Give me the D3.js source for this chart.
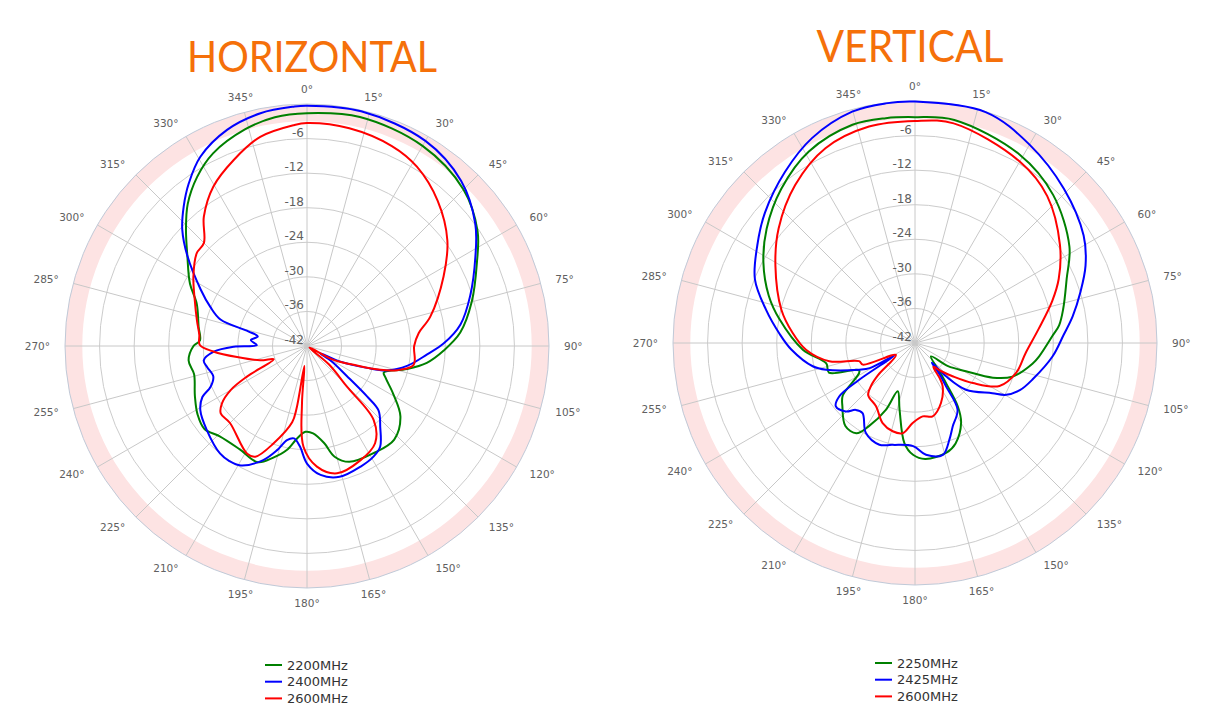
<!DOCTYPE html>
<html>
<head>
<meta charset="utf-8">
<script src="https://cdn.jsdelivr.net/npm/d3@7"></script>
<style>
  body { margin: 0; background: #fff; }
  text { font-family: "DejaVu Sans", Verdana, sans-serif; }
</style>
</head>
<body>
<svg id="chart" width="1231" height="712"></svg>
<script>
// ===== data (dB vs angle, degrees clockwise from top) =====
const ringValues = [-36, -30, -24, -18, -12, -6];
const ringLabels = [-42, -36, -30, -24, -18, -12, -6];
const angleTicks = d3.range(0, 360, 15);

// HORIZONTAL
const hAngles2200 = [0,13,30,45,56,64,75,85,92,98,103,109,112,119,127,137,148,160,166,170,176,181,186,191,197,203,213,224,231,238,246,256,263,270,273,280,291,298,307,314,320,327,334,344,352];
const hDb2200     = [-1.6,-1.2,-1.9,-3.6,-6.3,-9.2,-12.4,-15.3,-18.3,-21.0,-24.2,-27.9,-27.3,-24.9,-21.7,-19.8,-20.1,-20.6,-22.2,-24.9,-26.8,-27.1,-25.9,-23.6,-21.7,-20.1,-20.6,-20.2,-19.1,-19.6,-20.7,-21.8,-21.3,-22.3,-23.4,-22.9,-21.5,-19.0,-16.0,-12.8,-9.8,-7.0,-4.8,-2.9,-1.9];

const hAngles2400 = [0,13,30,43,54,62,73,82,89,94,101,107,110,115,119,122,127,130,132,138,144,149,156,166,174,180,184,188,192,196,201,209,214,219,230,239,244,247,252,258,262,266.5,269.5,271,276,281,284,287,292,298,307,313,318.5,324,330.6,339.7,348.7,356.8];
const hDb2400     = [-0.3,-0.2,-0.9,-2.8,-5.9,-8.9,-12.4,-15.1,-18.3,-21.1,-24.2,-27.5,-30.9,-35.6,-39.5,-37,-33.3,-28.4,-25.3,-23.0,-20.4,-19.6,-19.1,-18.6,-19.5,-21.6,-24.5,-25.8,-25.3,-23.2,-20.8,-18.3,-17.9,-18.0,-19.3,-20.4,-21.8,-23.8,-24.9,-24.3,-23.9,-25.8,-29.3,-33.3,-32.2,-33.3,-31.5,-26.3,-23.9,-21.1,-16.0,-12.4,-9.7,-7.1,-4.3,-2.0,-0.8,-0.4];

const hAngles2600 = [0,11,23,31.5,42,53,63,76.6,83.5,90,100,105,108,112,117.7,122,130,135.5,138,145,155,166.7,175.3,182,185,187.5,189.5,191,199,205,209,225,232,236,240,243,248.3,253,261,266.5,270.5,276,283,292,301.4,310,315,321.4,329.6,338.5,347.4,356.5];
const hDb2600     = [-3.3,-3.5,-4.3,-5.5,-8.1,-11.5,-15.4,-20.0,-22.5,-23.4,-23.2,-25.8,-28.6,-33.3,-36.8,-41.5,-37,-32.1,-24.7,-21.4,-20.1,-19.3,-21.0,-24.5,-32,-38.5,-31,-28.5,-24.1,-20.8,-20.6,-23.1,-23.0,-24.2,-26.7,-30.3,-35.8,-33.5,-29.7,-25.8,-23.4,-23.2,-22.4,-21.0,-18.9,-17.0,-16.7,-13.3,-9.9,-7.3,-4.8,-3.6];

// VERTICAL
const vAngles2250 = [0,10,29,43,58,67,77,83,87,96,100,109,114,119,125,130,140,142.5,146,150,158,164,175,181,186,193,199.7,203.5,209,213,220,229,234,243.5,251,257,266.6,280,288,298,307.6,319,331,344,352.6];
const vDb2250     = [-2.8,-2.7,-4.6,-6.85,-10.4,-13.4,-15.6,-16.8,-18.1,-20.3,-21.3,-24.1,-27.2,-31.9,-35,-38.4,-35,-33,-28.7,-26.0,-23.2,-22.2,-21.8,-22.6,-24.5,-30.1,-33.1,-29.4,-25.5,-23.3,-23.2,-25.3,-26.5,-31.2,-26.2,-26.2,-22.5,-18.1,-15.3,-12.2,-9.5,-6.6,-4.0,-2.6,-2.65];

const vAngles2425 = [0,17,30,44,57.5,65.6,73,80.4,87,95.5,107,114,119.6,123,132.5,137,139.5,142,144.4,147.4,155.7,160.4,166,174.4,181,192.4,199.3,208.6,216.8,221.5,225.3,231.3,234.8,236.6,238.5,241,244.4,253.3,257.2,267,274,282.6,291.7,301.8,311,322.8,333.3,344.8,353];
const vDb2425     = [-0.1,-0.1,-2.25,-4.8,-7.3,-9.5,-12.0,-14.25,-16.2,-18.0,-20.6,-22,-23.8,-26.0,-30.0,-34.1,-37.5,-35,-32.75,-28.3,-26.1,-24.2,-22.0,-22.5,-24.1,-23.9,-23.3,-24.2,-26.8,-26.5,-25.1,-24.4,-25.9,-30.4,-37.8,-33,-31.3,-25.9,-23.8,-20.5,-18.4,-15.5,-12.1,-9.8,-7.5,-4.7,-2.2,-0.4,-0.1];

const vAngles2600 = [0,10,30,42,56,66,73,83.5,95,106.5,117,124.7,131.5,137,142.3,145,147.4,156.6,166.5,174,181.7,187.8,194.2,202,211.6,222,226,229,238,247.5,252,258,266.5,274.7,284,299,310,322.8,335.3,348];
const vDb2600     = [-3.45,-3.3,-5.65,-7.7,-11.65,-14.7,-17.1,-20.4,-22.7,-23.7,-25.55,-29.8,-33.3,-35.3,-36.8,-34.5,-33.1,-30.65,-28.9,-29.2,-28.1,-26.2,-26.2,-27.0,-29.1,-29.85,-31.5,-33.5,-38.1,-32.2,-31.8,-26.8,-23.05,-20.7,-18.1,-14.3,-11.1,-7.6,-4.8,-3.6];

const hNames = ["2200MHz", "2400MHz", "2600MHz"];
const vNames = ["2250MHz", "2425MHz", "2600MHz"];
const seriesColors = ["#008000", "#0000ff", "#ff0000"];

// ===== drawing =====
const svg = d3.select("#chart");
const R = 242;
const rScale = d3.scaleLinear().domain([-42, 0]).range([0, R]).clamp(true);
const toRad = a => a * Math.PI / 180;

function drawPolar(cfg) {
  const g = svg.append("g").attr("transform", `translate(${cfg.cx},${cfg.cy})`);

  // -3..0 dB band
  g.append("path")
    .attr("d", d3.arc()({ innerRadius: rScale(-3), outerRadius: R, startAngle: 0, endAngle: 2 * Math.PI }))
    .attr("fill", "#fde3e3");

  // rings
  g.selectAll(".ring").data(ringValues).enter().append("circle")
    .attr("r", d => rScale(d))
    .attr("fill", "none")
    .attr("stroke", "#cccccc")
    .attr("stroke-width", 1);

  // spokes
  g.selectAll(".spoke").data(angleTicks).enter().append("line")
    .attr("x1", 0).attr("y1", 0)
    .attr("x2", d => R * Math.sin(toRad(d)))
    .attr("y2", d => -R * Math.cos(toRad(d)))
    .attr("stroke", "#c8c8c8")
    .attr("stroke-width", 1);

  // outer border
  g.append("circle").attr("r", R)
    .attr("fill", "none").attr("stroke", "#c0cad8").attr("stroke-width", 1);

  // angle labels
  g.selectAll(".alab").data(angleTicks).enter().append("text")
    .attr("x", d => (R + 15) * Math.sin(toRad(d)))
    .attr("y", d => -(R + 15) * Math.cos(toRad(d)))
    .attr("dy", "0.35em")
    .attr("text-anchor", d => (d > 20 && d < 160) ? "start" : (d > 200 && d < 340) ? "end" : "middle")
    .style("font-size", "10.5px")
    .attr("fill", "#606060")
    .text(d => d + "°");

  // radial labels
  g.selectAll(".rlab").data(ringLabels).enter().append("text")
    .attr("x", -3)
    .attr("y", d => -rScale(d) - 2)
    .attr("text-anchor", "end")
    .style("font-size", "12px")
    .attr("fill", "#606060")
    .text(d => d);

  // series
  const line = d3.lineRadial()
    .angle(d => toRad(d[0]))
    .radius(d => rScale(d[1]))
    .curve(d3.curveCatmullRomClosed.alpha(0.5));

  cfg.series.forEach(s => {
    const pts = s.angles.map((a, i) => [a, s.db[i]]);
    g.append("path")
      .attr("d", line(pts))
      .attr("fill", "none")
      .attr("stroke", s.color)
      .attr("stroke-width", 2)
      .attr("stroke-linejoin", "round");
  });

  // title
  svg.append("text")
    .attr("x", cfg.titleX).attr("y", cfg.titleY)
    .attr("text-anchor", "middle")
    .attr("textLength", cfg.titleW)
    .attr("lengthAdjust", "spacingAndGlyphs")
    .style("font-family", "Lato, 'Open Sans', sans-serif")
    .style("font-size", cfg.titleSize + "px")
    .attr("fill", "#f5700a")
    .text(cfg.title);

  // legend
  const lg = svg.append("g").attr("transform", `translate(${cfg.legendX},${cfg.legendY})`);
  cfg.series.forEach((s, i) => {
    const row = lg.append("g").attr("transform", `translate(0,${i * 16.7})`);
    row.append("line").attr("x1", 0).attr("x2", 17).attr("y1", 0).attr("y2", 0)
      .attr("stroke", s.color).attr("stroke-width", 2);
    row.append("text").attr("x", 22).attr("y", 0).attr("dy", "0.35em")
      .style("font-size", "13px").attr("fill", "#333")
      .text(s.name);
  });
}

drawPolar({
  cx: 307, cy: 346,
  title: "HORIZONTAL", titleX: 312, titleY: 72, titleSize: 42, titleW: 250,
  legendX: 265, legendY: 665,
  series: [
    { name: hNames[0], color: seriesColors[0], angles: hAngles2200, db: hDb2200 },
    { name: hNames[1], color: seriesColors[1], angles: hAngles2400, db: hDb2400 },
    { name: hNames[2], color: seriesColors[2], angles: hAngles2600, db: hDb2600 }
  ]
});

drawPolar({
  cx: 915, cy: 343,
  title: "VERTICAL", titleX: 910, titleY: 62, titleSize: 44, titleW: 187,
  legendX: 875, legendY: 663,
  series: [
    { name: vNames[0], color: seriesColors[0], angles: vAngles2250, db: vDb2250 },
    { name: vNames[1], color: seriesColors[1], angles: vAngles2425, db: vDb2425 },
    { name: vNames[2], color: seriesColors[2], angles: vAngles2600, db: vDb2600 }
  ]
});
</script>
</body>
</html>
